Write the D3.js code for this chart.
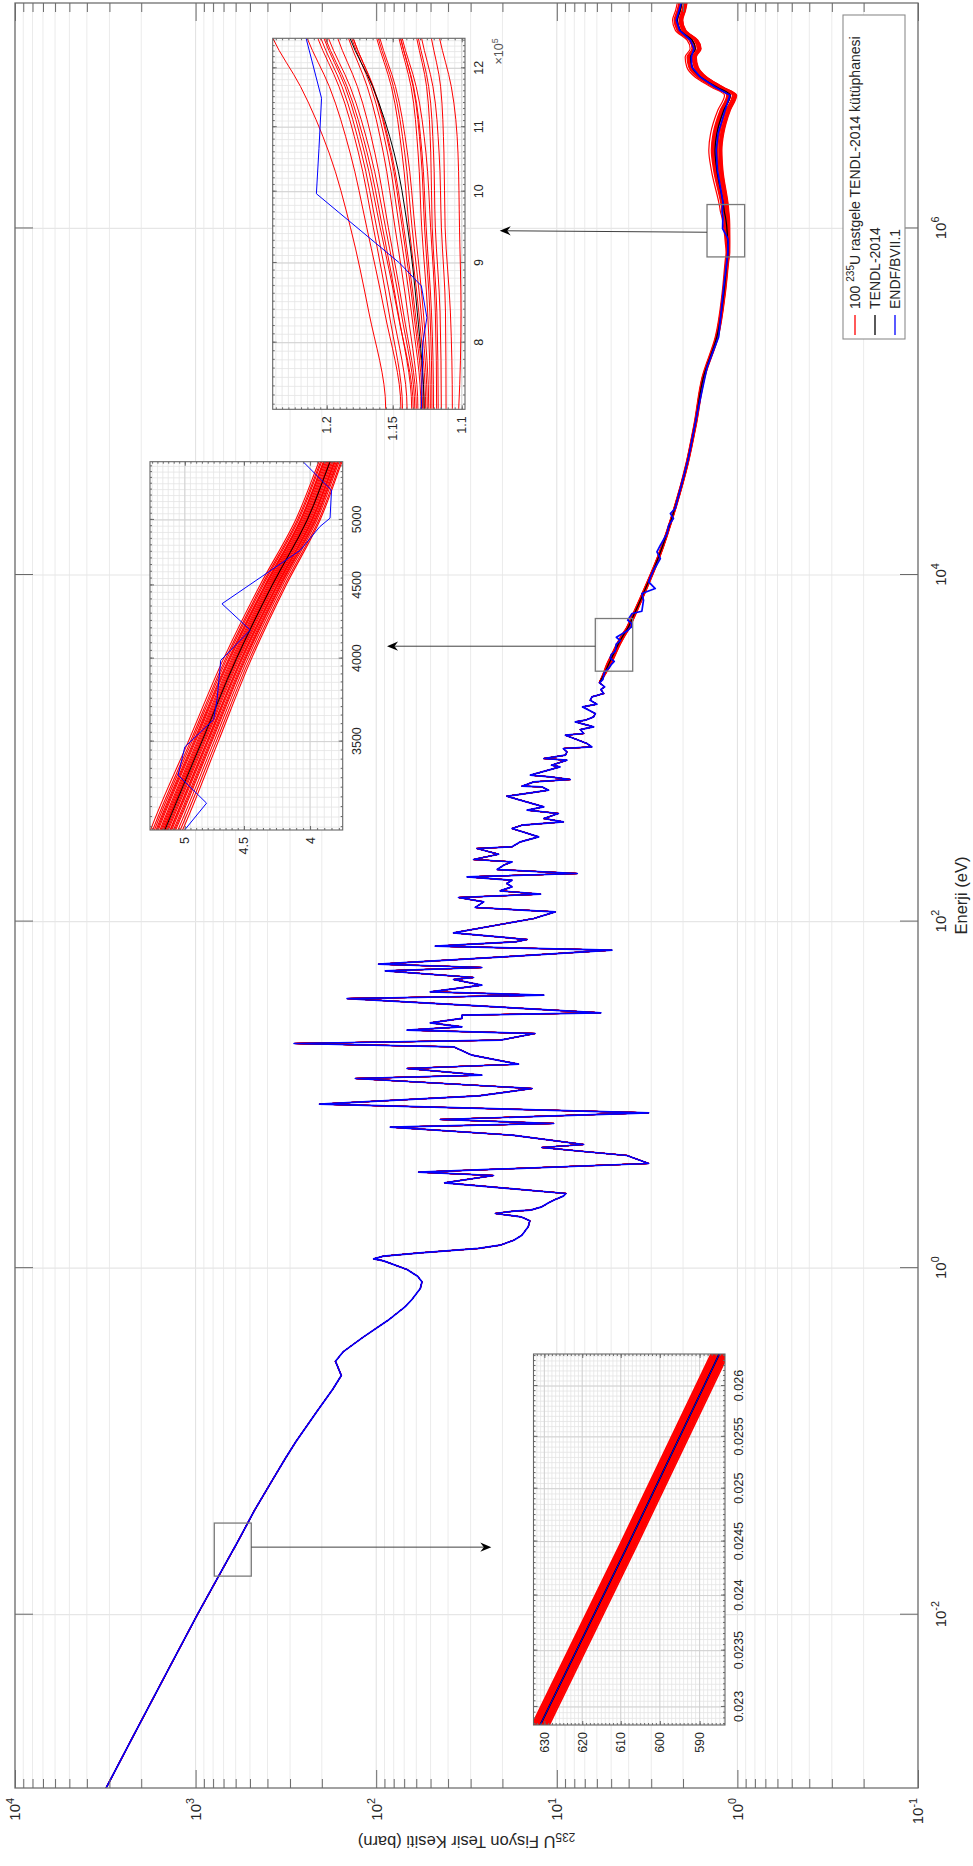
<!DOCTYPE html>
<html>
<head>
<meta charset="utf-8">
<script src="https://cdn.jsdelivr.net/npm/d3@7"></script>
<style>
body{margin:0;background:#fff}
svg{display:block}
</style>
</head>
<body>
<script>
// ---------------- DATA ----------------
const energyLimits = [1e-3, 2e7];
const sigmaLimits = [1e-1, 1e4];
const energyTicks = [1e-2, 1e0, 1e2, 1e4, 1e6];
const sigmaTicks = [1e-1, 1e0, 1e1, 1e2, 1e3, 1e4];

// ENDF/B-VII.1 and TENDL-2014 share the resolved resonance data (E [eV], sigma [b])
const sharedResonance = [
[0.001,3130],[0.002,2211],[0.005,1391],[0.01,978],[0.015,789],[0.02287,630.7],[0.0245,607.7],[0.02632,585.1],
[0.04,472],[0.06,375],[0.08,318],[0.1,278],[0.15,212],[0.2,174],[0.24,156],[0.29,168],[0.33,152],[0.4,118],[0.5,86],[0.6,69],
[0.659,63.4],[0.763,57],[0.834,55.8],[0.899,59],[0.982,67.5],[1.102,91],[1.132,103.3],[1.173,91],[1.226,57],
[1.299,27.1],[1.357,20.6],[1.45,17.3],[1.55,15.6],[1.732,14.4],[1.876,14.1],[1.978,15.8],[2.068,21.9],[2.133,17.3],
[2.161,14.0],[2.259,12.1],[2.382,11.1],[2.49,10.2],[2.603,9.2],[2.697,8.9],[3.108,41.8],[3.425,22.4],[3.581,58.2],
[4.018,3.1],[4.468,4.09],[4.712,7.1],[4.969,12.1],[5.171,7.1],[5.855,17.7],[6.512,83.5],[6.837,10.4],[7.21,44.2],
[7.877,3.1],[8.839,206],[9.872,27.1],[10.88,13.7],[12.43,130.5],[12.99,26],[14.2,67.5],[15.04,16.3],[16.95,29.5],
[18.93,37.3],[19.79,285],[20.69,20.6],[22.6,13.2],[23.63,67.5],[24.7,33.5],[25.59,44.2],[26.05,50.2],[27.6,33.5],
[28.84,33.5],[29.75,5.7],[35.97,145],[37.6,11.8],[39.3,50.2],[42.95,26],[46.32,37.3],[47.56,28.9],[51.96,89],
[54.32,26],[56.79,97],[62.6,19.7],[68.4,4.95],[72.1,47.1],[76.4,17],[78.8,14.6],[86.1,37.3],[104.2,13.4],
[113.8,10.2],[120.6,28.3],[130,25.4],[137.7,35],[143.9,12.3],[150.4,20.6],[158.7,17.7],[165.9,18.9],[173.3,17.7],
[181.2,31.4],[189.4,7.7],[199.7,21.4],[211.5,19.7],[221.1,17.7],[228.1,28.9],[244.8,21],[264.1,27.7],[270,17.7],
[288.5,15.9],[308.3,12.6],[344.4,17.7],[360,15.6],[376.3,9.2],[393.3,11.8],[420.4,9.8],[439.4,14.6],[459.3,11.8],
[529.1,18.9],[553.1,14],[573.1,11.1],[599.1,12.1],[604.4,15.6],[640.2,13.4],[660.4,8.42],[684.2,10.9],[699.6,14],
[781.5,9.6],[799,10.7],[853.8,8.79],[873,11.8],[912.5,8.96],[953.8,8.79],[997,9.2],[1019,6.39],[1065,6.81],
[1114,7.57],[1190,8.96],[1217,7.1],[1283,7.41],[1330,6.25],[1421,7.9],[1453,6.95],[1518,6.25],[1587,6.12],
[1734,7.2],[1797,5.99],[1895,6.53],[1981,6.39],[2070,5.5],[2183,5.7],[2262,5.43],[2386,5.8]
];

// TENDL-2014 above the resolved region
const tendlSmooth = [
[2386,5.8],[2700,5.45],[3036,5.18],[3500,4.85],[4000,4.56],[4500,4.28],[5000,4.02],[5491,3.86],[7478,3.38],
[12720,2.73],[24700,2.21],[44000,1.90],[74800,1.71],[139000,1.54],[236600,1.30],[421000,1.19],[655000,1.14],
[726000,1.127],[837000,1.132],[948000,1.139],[1059000,1.149],[1168000,1.165],[1254000,1.182],[1330000,1.19],
[2170000,1.30],[2830000,1.33],[3530000,1.30],[4810000,1.19],[5870000,1.095],[6550000,1.30],[7490000,1.60],
[8550000,1.78],[9770000,1.82],[10900000,1.71],[12200000,1.78],[13900000,2.07],[15900000,2.15],[18200000,2.07],
[20000000,2.03]
];

// ENDF/B-VII.1 above the resolved region
const endfUnresolved = [
[2500,5.55],[2750,5.45],[2900,5.15],[3037,5.00],[3170,4.81],[3316,5.06],[3470,5.00],[3626,4.75],[3750,4.72],
[3989,4.69],[4188,4.45],[4369,4.68],[4762,4.07],[4947,3.93],[5014,3.86],[5245,3.85],[5491,4.05],[5995,3.83],
[6182,3.38],[7154,3.31],[7823,3.38],[8356,2.85],[9125,3.10],[9750,3.03],[10660,2.91],[12450,2.67],[13590,2.79],
[14860,2.67],[17360,2.45],[19390,2.40],[21180,2.26],[22640,2.35],[24190,2.21],[48040,1.86],[85500,1.67],
[158800,1.47],[236600,1.27],[459600,1.19],[725000,1.129],[800000,1.128],[830000,1.125],[870000,1.129],
[900000,1.145],[997000,1.208],[1066000,1.206],[1148000,1.204],[1254000,1.216],[1400000,1.20],[2170000,1.29],
[2830000,1.31],[3530000,1.28],[4810000,1.17],[5870000,1.10],[6550000,1.33],[7490000,1.61],[8550000,1.79],
[9770000,1.80],[10900000,1.74],[12200000,1.82],[13900000,2.09],[15900000,2.18],[18200000,2.10],[20000000,2.05]
];

// Random TENDL samples: deviation from TENDL-2014 (%) read at these energies
// columns: thermal, 3040 eV, 5490 eV, 25 keV, 420 keV, 725 keV, 1 MeV, 1.254 MeV, 3 MeV, 20 MeV
const sampleDeviationEnergies = [3040, 5490, 25000, 420000, 725000, 1000000, 1254000, 3000000, 20000000];
const sampleDeviations = [
[0.35, 2.6, 2.0, 1.2, 2.2, 2.5, 4.0, 5.1, 8.5, 6.0],
[0.30, 2.2, 1.7, 1.0, 1.4, 1.5, 2.9, 2.8, 5.0, 4.0],
[0.25, 1.9, 1.5, 0.9, 1.3, 1.4, 2.4, 2.1, 4.0, 3.2],
[0.20, 1.6, 1.2, 0.7, 1.0, 1.1, 2.2, 1.9, 3.5, 2.8],
[0.17, 1.2, 1.0, 0.6, 0.8, 0.8, 1.8, 1.6, 3.0, 2.3],
[0.13, 0.9, 0.8, 0.4, 0.6, 0.6, 1.6, 1.4, 2.5, 1.9],
[0.09, 0.5, 0.4, 0.3, 0.4, 0.4, 0.9, 0.1, 0.7, 0.5],
[0.05, 0.3, 0.2, 0.1, 0.2, 0.2, 0.6, -0.1, 0.2, 0.2],
[0.02, 0.1, 0.1, 0.0, 0.0, 0.0, 0.3, -0.2, -0.4, -0.3],
[-0.02, -0.2, -0.1, -0.1, -0.1, -0.1, -0.1, -1.7, -3.0, -2.3],
[-0.05, -0.4, -0.3, -0.2, -0.2, -0.2, -0.3, -1.8, -3.2, -2.5],
[-0.08, -0.6, -0.5, -0.3, -0.3, -0.3, -0.5, -1.9, -3.5, -2.7],
[-0.12, -0.9, -0.7, -0.4, -0.4, -0.4, -1.0, -3.1, -5.2, -3.8],
[-0.16, -1.2, -0.9, -0.5, -0.6, -0.6, -1.3, -3.2, -5.5, -4.0],
[-0.20, -1.5, -1.1, -0.6, -0.7, -0.8, -1.6, -3.3, -5.7, -4.3],
[-0.24, -1.9, -1.4, -0.8, -1.0, -1.1, -1.9, -4.3, -7.0, -5.2],
[-0.28, -2.3, -1.6, -0.9, -1.3, -1.4, -2.3, -4.5, -7.4, -5.5],
[-0.32, -2.7, -1.9, -1.1, -1.6, -1.8, -2.5, -5.1, -8.0, -6.0],
[-0.38, -3.1, -2.1, -1.3, -2.0, -2.2, -3.5, -5.6, -8.6, -6.4],
[0.22, 1.4, 1.1, 0.6, 0.7, 0.7, 2.0, 1.7, 3.2, 2.5],
[0.04, 0.2, 0.0, 0.0, 0.1, 0.1, 0.4, -0.2, -0.2, 0.0],
[-0.10, -1.0, -0.8, -0.5, -0.5, -0.5, -1.2, -3.2, -5.4, -3.9],
[-0.22, -1.7, -1.3, -0.7, -0.8, -0.9, -1.7, -4.2, -6.8, -5.0],
[0.11, 0.7, 0.6, 0.3, 0.5, 0.5, 1.4, 0.8, 1.7, 1.3]
];

// inset tick values
const insetAEnergyTicks = [0.023, 0.0235, 0.024, 0.0245, 0.025, 0.0255, 0.026];
const insetASigmaTicks = [590, 600, 610, 620, 630];
const insetBEnergyTicks = [3500, 4000, 4500, 5000];
const insetBSigmaTicks = [4, 4.5, 5];
const insetCEnergyTicks = [8e5, 9e5, 1e6, 1.1e6, 1.2e6];
const insetCEnergyLabels = ["8", "9", "10", "11", "12"];
const insetCSigmaTicks = [1.1, 1.15, 1.2];

// zoom boxes on the main plot (energy range, sigma range) and arrow targets
const zoomBoxes = [
  {e:[0.0167, 0.0338], s:[491.6, 788], from:[0.02455, 491.6], to:[0.02455, 23.05]},
  {e:[2786, 5610], s:[3.80, 6.12], from:[3883, 6.12], to:[3883, 87.1]},
  {e:[6.85e5, 1.374e6], s:[0.912, 1.473], from:[9.508e5, 1.473], to:[9.70e5, 20.7]}
];

const legendItems = [
  {color:"#ff0000", pre:"100 ", sup:"235", post:"U rastgele TENDL-2014 kütüphanesi"},
  {color:"#000000", pre:"TENDL-2014", sup:"", post:""},
  {color:"#0000ff", pre:"ENDF/BVII.1", sup:"", post:""}
];

// ---------------- LAYOUT (landscape figure, rotated on the page) ----------------
const PAGE_W = 973, PAGE_H = 1866;
const layout = {
  main:   {left:78, right:1863, top:15, bottom:918},
  insetA: {left:141, right:512, top:533.5, bottom:725},
  insetB: {left:1036, right:1404.3, top:150, bottom:342.7},
  insetC: {left:1456.7, right:1827.7, top:272.7, bottom:465},
  legend: {left:1527, right:1851, top:843, bottom:905}
};
const FONT = "'Liberation Sans', Arial, Helvetica, sans-serif";
const TXT = "#262626";

const svg = d3.select("body").append("svg")
  .attr("width", PAGE_W).attr("height", PAGE_H)
  .attr("font-family", FONT);
svg.append("rect").attr("width", PAGE_W).attr("height", PAGE_H).attr("fill", "#fff");
const defs = svg.append("defs");
const fig = svg.append("g").attr("transform", `translate(0,${PAGE_H}) rotate(-90)`);

// samples
const devAnchorLog = [1e-3, 0.1, 1, 2250].concat(sampleDeviationEnergies).map(Math.log10);
const samples = sampleDeviations.map(row => {
  const vals = [row[0], row[0], 0, 0].concat(row.slice(1));
  const dev = d3.scaleLinear().domain(devAnchorLog).range(vals).clamp(true);
  const f = ([e, s]) => [e, s * (1 + dev(Math.log10(e)) / 100)];
  return {res: sharedResonance.map(f), hi: tendlSmooth.map(f)};
});
const endfAll = sharedResonance.concat(endfUnresolved);

function drawSeries(g, xs, ys, w) {
  const lin = d3.line().x(d => xs(d[0])).y(d => ys(d[1]));
  const smooth = d3.line().x(d => xs(d[0])).y(d => ys(d[1])).curve(d3.curveMonotoneX);
  const red = g.append("g").attr("fill", "none").attr("stroke", "#ff0000").attr("stroke-width", w.red)
    .attr("stroke-linejoin", "round");
  samples.forEach(s => {
    red.append("path").attr("d", lin(s.res)).attr("stroke-width", w.redRes);
    red.append("path").attr("d", smooth(s.hi));
  });
  const blk = g.append("g").attr("fill", "none").attr("stroke", "#000").attr("stroke-width", w.black)
    .attr("stroke-linejoin", "round");
  blk.append("path").attr("d", lin(sharedResonance)).attr("stroke-width", w.redRes);
  blk.append("path").attr("d", smooth(tendlSmooth));
  g.append("path").attr("d", lin(endfAll)).attr("fill", "none").attr("stroke", "#0000ff")
    .attr("stroke-width", w.blue).attr("stroke-linejoin", "round");
}

function supLabels(sel) {
  sel.selectAll(".tick text").each(function(d) {
    const t = d3.select(this);
    const p = Math.round(Math.log10(d));
    t.text(null);
    t.append("tspan").text("10");
    t.append("tspan").attr("dy", "-0.6em").attr("font-size", "0.72em").text(p);
  });
}

// ---------------- MAIN AXES ----------------
const L = layout.main;
const xMain = d3.scaleLog().domain(energyLimits).range([L.left, L.right]);
const yMain = d3.scaleLog().domain(sigmaLimits).range([L.bottom, L.top]);
const sigmaMinor = [];
sigmaTicks.slice(0, -1).forEach(d => { for (let m = 2; m <= 9; m++) sigmaMinor.push(d * m); });

const grid = fig.append("g");
grid.selectAll(".gmin").data(sigmaMinor).join("line")
  .attr("x1", L.left).attr("x2", L.right).attr("y1", d => yMain(d)).attr("y2", d => yMain(d))
  .attr("stroke", "#ebebeb").attr("stroke-width", 1);
grid.selectAll(".gmaj").data(sigmaTicks).join("line")
  .attr("x1", L.left).attr("x2", L.right).attr("y1", d => yMain(d)).attr("y2", d => yMain(d))
  .attr("stroke", "#e0e0e0").attr("stroke-width", 1);
grid.selectAll(".gx").data(energyTicks).join("line")
  .attr("x1", d => xMain(d)).attr("x2", d => xMain(d)).attr("y1", L.top).attr("y2", L.bottom)
  .attr("stroke", "#e6e6e6").attr("stroke-width", 1.2);

defs.append("clipPath").attr("id", "clipMain").append("rect")
  .attr("x", L.left).attr("y", L.top).attr("width", L.right - L.left).attr("height", L.bottom - L.top);
drawSeries(fig.append("g").attr("clip-path", "url(#clipMain)"), xMain, yMain,
  {red:1.2, redRes:0.8, black:1.2, blue:1.7});

fig.append("rect").attr("x", L.left).attr("y", L.top).attr("width", L.right - L.left).attr("height", L.bottom - L.top)
  .attr("fill", "none").attr("stroke", "#707070").attr("stroke-width", 1.3);

function styleAxis(g, fs) {
  g.attr("font-size", fs).attr("font-family", FONT).attr("color", TXT);
  g.select(".domain").remove();
  g.selectAll(".tick line").attr("stroke", "#6a6a6a").attr("stroke-width", 1);
}
const axB = fig.append("g").attr("transform", `translate(0,${L.bottom})`)
  .call(d3.axisBottom(xMain).tickValues(energyTicks).tickSizeInner(-18).tickSizeOuter(0).tickPadding(17));
styleAxis(axB, 15); supLabels(axB);
const axT = fig.append("g").attr("transform", `translate(0,${L.top})`)
  .call(d3.axisTop(xMain).tickValues(energyTicks).tickSizeInner(-18).tickSizeOuter(0).tickFormat(""));
styleAxis(axT, 15);
const axL = fig.append("g").attr("transform", `translate(${L.left},0)`)
  .call(d3.axisLeft(yMain).tickValues(sigmaTicks).tickSizeInner(-18).tickSizeOuter(0).tickPadding(10));
styleAxis(axL, 15); supLabels(axL);
const axLm = fig.append("g").attr("transform", `translate(${L.left},0)`)
  .call(d3.axisLeft(yMain).tickValues(sigmaMinor).tickSizeInner(-9).tickSizeOuter(0).tickFormat(""));
styleAxis(axLm, 15);
const axR = fig.append("g").attr("transform", `translate(${L.right},0)`)
  .call(d3.axisRight(yMain).tickValues(sigmaTicks).tickSizeInner(-18).tickSizeOuter(0).tickFormat(""));
styleAxis(axR, 15);
const axRm = fig.append("g").attr("transform", `translate(${L.right},0)`)
  .call(d3.axisRight(yMain).tickValues(sigmaMinor).tickSizeInner(-9).tickSizeOuter(0).tickFormat(""));
styleAxis(axRm, 15);

// axis titles
fig.append("text").attr("x", (L.left + L.right) / 2).attr("y", 961)
  .attr("text-anchor", "middle").attr("dominant-baseline", "central")
  .attr("font-size", 16.5).attr("fill", TXT).text("Enerji (eV)");
const yt = fig.append("text")
  .attr("transform", `translate(23.5,${(L.top + L.bottom) / 2}) rotate(-90)`)
  .attr("text-anchor", "middle").attr("dominant-baseline", "central")
  .attr("font-size", 16.5).attr("fill", TXT);
yt.append("tspan").attr("font-size", "0.72em").attr("dy", "0.45em").text("235");
yt.append("tspan").attr("dy", "-0.32em").text("U Fisyon Tesir Kesiti (barn)");

// zoom boxes and arrows
const ann = fig.append("g");
zoomBoxes.forEach(b => {
  const x0 = xMain(b.e[0]), x1 = xMain(b.e[1]), y0 = yMain(b.s[1]), y1 = yMain(b.s[0]);
  ann.append("rect").attr("x", x0).attr("y", y0).attr("width", x1 - x0).attr("height", y1 - y0)
    .attr("fill", "none").attr("stroke", "#7a7a7a").attr("stroke-width", 1.3);
  const p1 = [xMain(b.from[0]), yMain(b.from[1])], p2 = [xMain(b.to[0]), yMain(b.to[1])];
  const dx = p2[0] - p1[0], dy = p2[1] - p1[1], len = Math.hypot(dx, dy);
  const ux = dx / len, uy = dy / len, nx = -uy, ny = ux;
  const HL = 11, HW = 4.6, notch = 7.5;
  const nb = [p2[0] - ux * notch, p2[1] - uy * notch];
  ann.append("line").attr("x1", p1[0]).attr("y1", p1[1]).attr("x2", nb[0]).attr("y2", nb[1])
    .attr("stroke", "#404040").attr("stroke-width", 1);
  const bx = p2[0] - ux * HL, by = p2[1] - uy * HL;
  ann.append("path").attr("d",
    `M${p2[0]},${p2[1]}L${bx + nx * HW},${by + ny * HW}L${nb[0]},${nb[1]}L${bx - nx * HW},${by - ny * HW}Z`)
    .attr("fill", "#000");
});

// ---------------- INSETS ----------------
function minorRange(d0, d1, step) {
  const a = Math.ceil(d0 / step - 1e-9), b = Math.floor(d1 / step + 1e-9);
  return d3.range(a, b + 1).map(i => +(i * step).toPrecision(10));
}
const insetConfigs = [
  {id:"A", box:layout.insetA, xDomain:[0.022842, 0.02632], yDomain:[583.7, 632.9],
   xTicks:insetAEnergyTicks, xFmt:d => String(d), xMinorStep:0.00005,
   yTicks:insetASigmaTicks, yFmt:d => String(d), yMinorStep:1, w:{red:1.7, redRes:1.7, black:1, blue:1}},
  {id:"B", box:layout.insetB, xDomain:[3036, 5491], yDomain:[3.774, 5.32],
   xTicks:insetBEnergyTicks, xFmt:d => String(d), xMinorStep:50,
   yTicks:insetBSigmaTicks, yFmt:d => String(d), yMinorStep:0.05, w:{red:1.1, redRes:1.1, black:1, blue:1}},
  {id:"C", box:layout.insetC, xDomain:[7.25e5, 1.2544e6], yDomain:[1.0977, 1.2425],
   xTicks:insetCEnergyTicks, xFmt:(d, i) => insetCEnergyLabels[i], xMinorStep:1e4, exponent:"5",
   yTicks:insetCSigmaTicks, yFmt:d => String(d), yMinorStep:0.005, w:{red:1, redRes:1, black:1, blue:1}}
];

insetConfigs.forEach(cfg => {
  const B = cfg.box;
  const g = fig.append("g");
  const xs = d3.scaleLog().domain(cfg.xDomain).range([B.left, B.right]);
  const ys = d3.scaleLog().domain(cfg.yDomain).range([B.bottom, B.top]);
  const xMinor = minorRange(cfg.xDomain[0], cfg.xDomain[1], cfg.xMinorStep);
  const yMinor = minorRange(cfg.yDomain[0], cfg.yDomain[1], cfg.yMinorStep);
  g.append("rect").attr("x", B.left).attr("y", B.top).attr("width", B.right - B.left).attr("height", B.bottom - B.top)
    .attr("fill", "#fff");
  g.append("g").selectAll("line").data(xMinor).join("line")
    .attr("x1", d => xs(d)).attr("x2", d => xs(d)).attr("y1", B.top).attr("y2", B.bottom)
    .attr("stroke", "#e4e4e4").attr("stroke-width", 0.8);
  g.append("g").selectAll("line").data(yMinor).join("line")
    .attr("x1", B.left).attr("x2", B.right).attr("y1", d => ys(d)).attr("y2", d => ys(d))
    .attr("stroke", "#e4e4e4").attr("stroke-width", 0.8);
  g.append("g").selectAll("line").data(cfg.xTicks).join("line")
    .attr("x1", d => xs(d)).attr("x2", d => xs(d)).attr("y1", B.top).attr("y2", B.bottom)
    .attr("stroke", "#cfcfcf").attr("stroke-width", 0.9);
  g.append("g").selectAll("line").data(cfg.yTicks).join("line")
    .attr("x1", B.left).attr("x2", B.right).attr("y1", d => ys(d)).attr("y2", d => ys(d))
    .attr("stroke", "#cfcfcf").attr("stroke-width", 0.9);

  defs.append("clipPath").attr("id", "clip" + cfg.id).append("rect")
    .attr("x", B.left).attr("y", B.top).attr("width", B.right - B.left).attr("height", B.bottom - B.top);
  drawSeries(g.append("g").attr("clip-path", `url(#clip${cfg.id})`), xs, ys, cfg.w);

  g.append("rect").attr("x", B.left).attr("y", B.top).attr("width", B.right - B.left).attr("height", B.bottom - B.top)
    .attr("fill", "none").attr("stroke", "#666").attr("stroke-width", 1.1);

  const fs = 12.5;
  const ab = g.append("g").attr("transform", `translate(0,${B.bottom})`)
    .call(d3.axisBottom(xs).tickValues(cfg.xTicks).tickFormat(cfg.xFmt).tickSizeInner(-4).tickSizeOuter(0).tickPadding(9));
  styleAxis(ab, fs);
  const abm = g.append("g").attr("transform", `translate(0,${B.bottom})`)
    .call(d3.axisBottom(xs).tickValues(xMinor).tickFormat("").tickSizeInner(-2).tickSizeOuter(0));
  styleAxis(abm, fs);
  const at = g.append("g").attr("transform", `translate(0,${B.top})`)
    .call(d3.axisTop(xs).tickValues(cfg.xTicks).tickFormat("").tickSizeInner(-4).tickSizeOuter(0));
  styleAxis(at, fs);
  const atm = g.append("g").attr("transform", `translate(0,${B.top})`)
    .call(d3.axisTop(xs).tickValues(xMinor).tickFormat("").tickSizeInner(-2).tickSizeOuter(0));
  styleAxis(atm, fs);
  const al = g.append("g").attr("transform", `translate(${B.left},0)`)
    .call(d3.axisLeft(ys).tickValues(cfg.yTicks).tickFormat(cfg.yFmt).tickSizeInner(-4).tickSizeOuter(0).tickPadding(7));
  styleAxis(al, fs);
  const alm = g.append("g").attr("transform", `translate(${B.left},0)`)
    .call(d3.axisLeft(ys).tickValues(yMinor).tickFormat("").tickSizeInner(-2).tickSizeOuter(0));
  styleAxis(alm, fs);
  const ar = g.append("g").attr("transform", `translate(${B.right},0)`)
    .call(d3.axisRight(ys).tickValues(cfg.yTicks).tickFormat("").tickSizeInner(-4).tickSizeOuter(0));
  styleAxis(ar, fs);
  const arm = g.append("g").attr("transform", `translate(${B.right},0)`)
    .call(d3.axisRight(ys).tickValues(yMinor).tickFormat("").tickSizeInner(-2).tickSizeOuter(0));
  styleAxis(arm, fs);

  if (cfg.exponent) {
    const ex = g.append("text").attr("x", B.right).attr("y", B.bottom + 38)
      .attr("text-anchor", "end").attr("font-size", fs).attr("fill", "#555");
    ex.append("tspan").text("×10");
    ex.append("tspan").attr("dy", "-0.6em").attr("font-size", "0.72em").text(cfg.exponent);
  }
});

// ---------------- LEGEND ----------------
const LG = layout.legend;
const lg = fig.append("g");
lg.append("rect").attr("x", LG.left).attr("y", LG.top).attr("width", LG.right - LG.left).attr("height", LG.bottom - LG.top)
  .attr("fill", "#fff").attr("stroke", "#8c8c8c").attr("stroke-width", 1.1);
legendItems.forEach((it, i) => {
  const v = LG.top + 12 + i * 20;
  lg.append("line").attr("x1", LG.left + 4).attr("x2", LG.left + 24).attr("y1", v).attr("y2", v)
    .attr("stroke", it.color).attr("stroke-width", 1.3);
  const t = lg.append("text").attr("x", LG.left + 30).attr("y", v + 5)
    .attr("font-size", 14).attr("fill", TXT);
  t.append("tspan").text(it.pre);
  if (it.sup) {
    t.append("tspan").attr("dy", "-0.55em").attr("font-size", "0.72em").text(it.sup);
    t.append("tspan").attr("dy", "0.4em").text(it.post);
  }
});
</script>
</body>
</html>
